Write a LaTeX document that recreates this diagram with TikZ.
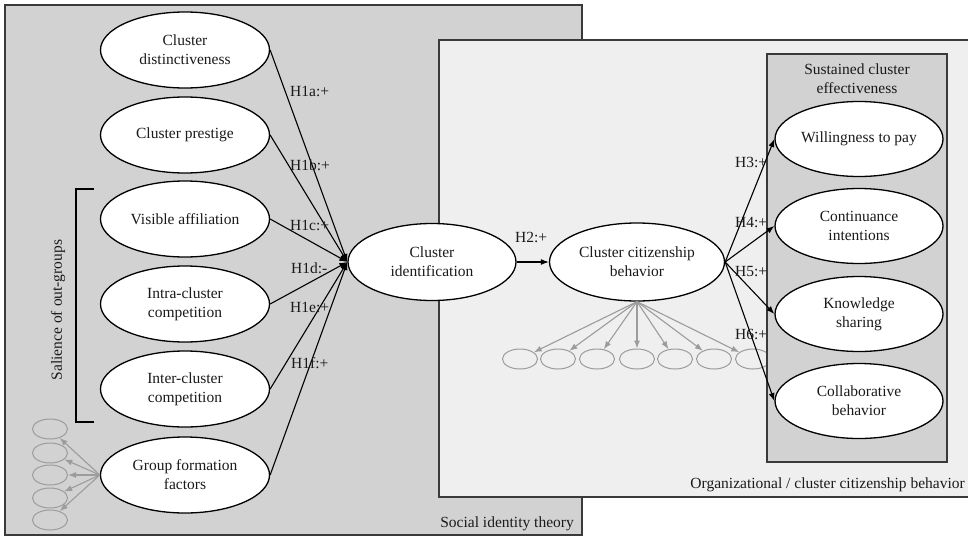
\documentclass[tikz,border=0pt]{standalone}
\usepackage{fontspec}
\setmainfont{Liberation Serif}
\usetikzlibrary{shapes.geometric,arrows.meta}
\definecolor{boxgray}{HTML}{D2D2D2}
\definecolor{lightbg}{HTML}{EFEFEF}
\definecolor{framec}{HTML}{3A3A3A}
\definecolor{minorc}{HTML}{9C9C9C}
\definecolor{inkc}{HTML}{1A1A1A}
\begin{document}
\begin{tikzpicture}[x=1pt,y=-1pt,
  every node/.style={font=\fontsize{15.5}{19}\selectfont, text=inkc},
  construct/.style={ellipse,draw=black,line width=1.3pt,fill=white,minimum width=169pt,minimum height=76pt,inner sep=0pt,align=center},
  itembox/.style={ellipse,draw=minorc,line width=1pt,minimum width=35pt,minimum height=20pt,inner sep=0pt},
  hyp/.style={draw=black,line width=1.1pt,-{Latex[length=8pt,width=6pt]}},
  loadarr/.style={draw=minorc,line width=1.1pt,-{Latex[length=8pt,width=6pt]}},
  hlabel/.style={anchor=west,inner sep=0pt},
  panel/.style={draw=framec,line width=1.4pt}
]
\useasboundingbox (0,0) rectangle (968,538);
% panels
\fill[boxgray] (5,5) rectangle (582,535);
\draw[panel] (5,5) rectangle (582,535);
\fill[lightbg] (439,40) rectangle (968,497);
\draw[panel] (970,40) -- (439,40) -- (439,497) -- (970,497);
\node[anchor=east,inner sep=0pt] (sit) at (574,524) {Social identity theory};
\node[anchor=east,inner sep=0pt] (ocb) at (965,485) {Organizational / cluster citizenship behavior};

% indicator ellipses under CCB (drawn before inner panel)
\foreach \i/\x in {1/520,2/558,3/597,4/637,5/675,6/714,7/753}{
  \node[itembox] (t\i) at (\x,359) {};
}

% inner panel
\fill[boxgray] (767,54) rectangle (947,462);
\draw[panel] (767,54) rectangle (947,462);
\node[align=center,inner sep=0pt] (sce) at (857,79) {Sustained cluster\\effectiveness};

% left constructs
\node[construct] (cd) at (185,50) {Cluster\\distinctiveness};
\node[construct] (cp) at (185,135) {Cluster prestige};
\node[construct] (va) at (185,219) {Visible affiliation};
\node[construct] (intra) at (185,304) {Intra-cluster\\competition};
\node[construct] (inter) at (185,389) {Inter-cluster\\competition};
\node[construct] (gff) at (185,475) {Group formation\\factors};

% bracket
\draw[black,line width=1.4pt] (94,189) -- (76,189) -- (76,422) -- (94,422);
\node[rotate=90] (sal) at (58,310) {Salience of out-groups};

% small indicators left
\foreach \i/\y in {1/429,2/453,3/475,4/498,5/520}{
  \node[itembox] (s\i) at (50,\y) {};
  \draw[loadarr] (gff.west) -- (s\i);
}

% central constructs
\node[construct,minimum width=168pt,minimum height=77pt] (ci) at (432,262) {Cluster\\identification};
\node[construct,minimum width=175pt,minimum height=78pt] (ccb) at (637,262) {Cluster citizenship\\behavior};

% right constructs
\node[construct,minimum width=168pt,minimum height=75pt] (wtp) at (859,139) {Willingness to pay};
\node[construct,minimum width=168pt,minimum height=75pt] (cont) at (859,226) {Continuance\\intentions};
\node[construct,minimum width=168pt,minimum height=75pt] (ks) at (859,314) {Knowledge\\sharing};
\node[construct,minimum width=168pt,minimum height=75pt] (cb) at (859,401) {Collaborative\\behavior};

% CCB indicators
\foreach \i in {1,...,7}{
  \draw[loadarr] (ccb.south) -- (t\i);
}

% H1 paths
\coordinate (hub) at (ci.west);
\foreach \n in {cd,cp,va,intra,inter,gff}{
  \draw[hyp] (\n.east) -- (hub);
}
\node[hlabel] (l1a) at (290,91) {H1a:+};
\node[hlabel] (l1b) at (290,165) {H1b:+};
\node[hlabel] (l1c) at (290,225) {H1c:+};
\node[hlabel] (l1d) at (291,268) {H1d:-};
\node[hlabel] (l1e) at (290,307) {H1e:+};
\node[hlabel] (l1f) at (291,363) {H1f:+};

% H2
\draw[hyp] (ci.east) -- (ccb.west);
\node[hlabel] (l2) at (515,237) {H2:+};

% H3-H6
\draw[hyp] (ccb.east) -- (wtp.west);
\draw[hyp] (ccb.east) -- (cont.west);
\draw[hyp] (ccb.east) -- (ks.west);
\draw[hyp] (ccb.east) -- (cb.west);
\node[hlabel] (l3) at (735,162) {H3:+};
\node[hlabel] (l4) at (735,223) {H4:+};
\node[hlabel] (l5) at (735,272) {H5:+};
\node[hlabel] (l6) at (735,334) {H6:+};
\end{tikzpicture}
\end{document}
